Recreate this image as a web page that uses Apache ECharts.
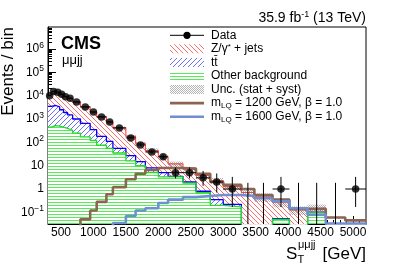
<!DOCTYPE html>
<html><head><meta charset="utf-8">
<script src="https://cdn.jsdelivr.net/npm/echarts@6/dist/echarts.min.js"></script>
<style>html,body{margin:0;padding:0;background:#fff}#c{width:407px;height:267px}</style>
</head><body><div id="c"></div>
<script>
// ---- data ----
const binEdges = [300,350,420,480,540,600,680,800,950,1050,1200,1300,1500,1650,1800,2000,2150,2380,2580,2800,3000,3280,3480,3760,4020,4300,4580,4880,5200];
const dataCounts = [10000,15000,14000,11500,9100,7700,5400,3300,2000,1230,750,415,155,77,39,24,5,5,3,2,1,0,0,1,0,0,0,1];
const dataErrLow = [9900,14880,13880,11390,9000,7610,5330,3240,1955,1195,723,395,143,69,33,19.2,2.84,2.84,1.37,0.71,0.17,0,0,0.17,0,0,0,0.17];
const dataErrHigh = [10100,15120,14120,11610,9200,7790,5470,3360,2045,1265,778,436,168,86,46,29.9,8.38,8.38,5.92,4.64,3.30,1.84,1.84,3.30,1.84,1.84,1.84,3.30];
const bkgOther = [450,520,500,450,400,330,250,170,120,75,55,35,16,10,5,3.3,3.3,1.8,0.7,0.2,0.17,0.005,0.005,0.05,0.005,0.1,0.004,0.004];
const bkgTTbar = [3050,3280,2800,2050,1500,1170,750,480,230,105,55,20,11,5,3,1.7,0.2,0.2,0.1,0.15,0.05,0.005,0.005,0.003,0.003,0.003,0.001,0.001];
const bkgZjets = [7000,11000,10200,9000,7100,6000,4300,2650,1650,1070,650,365,153,75,37,19,8.5,5,3,1.95,1.05,0.7,0.45,0.22,0.12,0.05,0.01,0.01];
const bkgUncRel = [0.1,0.1,0.1,0.1,0.1,0.1,0.1,0.1,0.1,0.1,0.15,0.15,0.15,0.15,0.25,0.25,0.25,0.25,0.3,0.3,0.3,0.3,0.4,0.4,0.4,0.4,0.5,0.5];
const lq1200 = [0.001,0.001,0.001,0.001,0.001,0.001,0.001,0.05,0.12,0.28,0.6,1.2,2.6,4.5,6.5,8,8,7.5,4.5,2,1.5,1,0.55,0.35,0.14,0.14,0.06,0.045];
const lq1600 = [0.001,0.001,0.001,0.001,0.001,0.001,0.001,0.001,0.001,0.001,0.001,0.035,0.07,0.12,0.15,0.25,0.35,0.45,0.5,0.55,0.55,0.5,0.4,0.3,0.15,0.08,0.033,0.033];
const xMajorTicks = [500,1000,1500,2000,2500,3000,3500,4000,4500,5000];
const yMajorTicks = [0.1,1,10,100,1000,10000,100000,1000000];

// ---- helpers ----
const FONT = '"Liberation Sans", Arial, sans-serif';
function makePattern(kind, color, bg) {
  const c = document.createElement('canvas');
  const ctx = c.getContext('2d');
  const fillBg = (w, h) => { if (bg) { ctx.fillStyle = bg; ctx.fillRect(0, 0, w, h); } };
  if (kind === 'diagDown' || kind === 'diagUp') {
    const s = 5; c.width = s; c.height = s; fillBg(s, s);
    ctx.strokeStyle = color; ctx.lineWidth = 1;
    for (let k = -1; k <= 1; k++) {
      ctx.beginPath();
      if (kind === 'diagDown') { ctx.moveTo(k*s, 0); ctx.lineTo(k*s + s, s); }
      else { ctx.moveTo(k*s + s, 0); ctx.lineTo(k*s, s); }
      ctx.stroke();
    }
  } else if (kind === 'horiz') {
    c.width = 4; c.height = 3; fillBg(4, 3);
    ctx.fillStyle = color; ctx.fillRect(0, 1, 4, 1);
  } else {
    c.width = 2; c.height = 2; fillBg(2, 2);
    ctx.fillStyle = color; ctx.fillRect(0, 0, 1, 1); ctx.fillRect(1, 1, 1, 1);
  }
  return {image: c, repeat: 'repeat'};
}
const patZ = makePattern('diagDown', 'rgba(255,60,60,0.75)', '#fff');
const patTT = makePattern('diagUp', 'rgba(60,60,255,0.75)', '#fff');
const patOther = makePattern('horiz', 'rgba(60,230,60,0.85)', '#fff');
const patUnc = makePattern('dots', 'rgba(120,120,120,0.55)', null);

const nBins = binEdges.length - 1;
const centers = binEdges.slice(0, -1).map((e, i) => (e + binEdges[i+1]) / 2);
function stepData(vals) {
  const d = vals.map((v, i) => [binEdges[i], v]);
  d.push([binEdges[nBins], vals[nBins-1]]);
  return d;
}
// stacked totals (stack order: other, ttbar, Z+jets)
const stackOther = bkgOther.slice();
const stackTT = bkgOther.map((v, i) => v + bkgTTbar[i]);
const stackZ = stackTT.map((v, i) => v + bkgZjets[i]);
const bkgTotal = stackZ;
const xMinorTicks = [];
for (let v = 400; v <= 5100; v += 100) if (v % 500) xMinorTicks.push(v);
const yMinorTicks = [];
for (let e = -2; e <= 6; e++) for (let m = 2; m <= 9; m++) yMinorTicks.push(m * Math.pow(10, e));

function yLabel(v) {
  const e = Math.round(Math.log10(v));
  if (e === 0) return '1';
  if (e === 1) return '10';
  return '10{sup|' + (e < 0 ? '\u2212' + (-e) : e) + '}';
}

const chart = echarts.init(document.getElementById('c'), null, {renderer: 'canvas'});
const legendY = i => 35.3 + i * 13.57;
const lgText = (i, text, rich) => ({type: 'text', x: 211, y: legendY(i), style: {text, fontSize: 12, fontFamily: FONT, fill: '#000', verticalAlign: 'middle', rich: rich || {}}});
const subRich = {sub: {fontSize: 8, fontFamily: FONT, verticalAlign: 'bottom', padding: [6, 0, 0, 0]}};

const option = {
  animation: false,
  backgroundColor: '#fff',
  grid: {left: 48, right: 41, top: 27, bottom: 43, show: true, borderColor: '#000', borderWidth: 1, backgroundColor: 'transparent'},
  xAxis: [
    {type: 'value', min: 300, max: 5200, position: 'bottom',
     axisLine: {show: true, lineStyle: {color: '#000', width: 1}},
     axisTick: {show: true, inside: true, length: 8, customValues: xMajorTicks, lineStyle: {color: '#000'}},
     axisLabel: {customValues: xMajorTicks, fontSize: 12, fontFamily: FONT, color: '#000', margin: 3, formatter: v => String(v)},
     splitLine: {show: false}},
    {type: 'value', min: 300, max: 5200, position: 'bottom',
     axisLine: {show: false},
     axisTick: {show: true, inside: true, length: 4, customValues: xMinorTicks, lineStyle: {color: '#000'}},
     axisLabel: {show: false}, splitLine: {show: false}}
  ],
  yAxis: [
    {type: 'log', logBase: 10, min: 0.0316, max: 8.8e6, position: 'left',
     axisLine: {show: true, lineStyle: {color: '#000', width: 1}},
     axisTick: {show: true, inside: true, length: 8, customValues: yMajorTicks, lineStyle: {color: '#000'}},
     axisLabel: {customValues: yMajorTicks, fontSize: 12, fontFamily: FONT, color: '#000', margin: 4,
       formatter: yLabel, rich: {sup: {fontSize: 8.5, fontFamily: FONT, verticalAlign: 'top', padding: [0, 0, 7, 0]}}},
     splitLine: {show: false}},
    {type: 'log', logBase: 10, min: 0.0316, max: 8.8e6, position: 'left',
     axisLine: {show: false},
     axisTick: {show: true, inside: true, length: 4, customValues: yMinorTicks, lineStyle: {color: '#000'}},
     axisLabel: {show: false}, splitLine: {show: false}}
  ],
  series: [
    {name: 'Z+jets', type: 'line', step: 'end', data: stepData(stackZ), symbol: 'none',
     lineStyle: {color: '#ff4444', width: 1.1}, areaStyle: {color: patZ, opacity: 1}, z: 2},
    {name: 'ttbar', type: 'line', step: 'end', data: stepData(stackTT), symbol: 'none',
     lineStyle: {color: '#0000ff', width: 1.3}, areaStyle: {color: patTT, opacity: 1}, z: 2},
    {name: 'Other background', type: 'line', step: 'end', data: stepData(stackOther), symbol: 'none',
     lineStyle: {color: '#22dd22', width: 1.3}, areaStyle: {color: patOther, opacity: 1}, z: 2},
    {name: 'Unc', type: 'custom', z: 3,
     data: bkgTotal.map((t, i) => [binEdges[i], binEdges[i+1], t * (1 - bkgUncRel[i]), t * (1 + bkgUncRel[i])]),
     encode: {x: [0, 1], y: [2, 3]},
     renderItem: function (params, api) {
       const a = api.coord([api.value(0), api.value(3)]);
       const b = api.coord([api.value(1), api.value(2)]);
       const cs = params.coordSys;
       const y0 = Math.max(a[1], cs.y), y1 = Math.min(b[1], cs.y + cs.height);
       if (!(y1 > y0)) return null;
       return {type: 'rect', shape: {x: a[0], y: y0, width: b[0] - a[0], height: y1 - y0}, style: {fill: patUnc}};
     }},
    {name: 'LQ1200', type: 'line', step: 'end', data: stepData(lq1200), symbol: 'none',
     lineStyle: {color: '#8c6452', width: 2.6}, z: 4},
    {name: 'LQ1600', type: 'line', step: 'end', data: stepData(lq1600), symbol: 'none',
     lineStyle: {color: '#6f8fd2', width: 2.6}, z: 4},
    {name: 'DataErr', type: 'custom', z: 5,
     data: centers.map((c, i) => [c, dataErrLow[i], dataErrHigh[i], dataCounts[i], binEdges[i], binEdges[i+1]]),
     encode: {x: 0, y: [1, 2]},
     renderItem: function (params, api) {
       const cs = params.coordSys;
       const bottom = cs.y + cs.height;
       const c = api.value(0), lo = api.value(1), hi = api.value(2), n = api.value(3);
       const xc = api.coord([c, 1])[0];
       let yLo = lo > 0 ? api.coord([c, lo])[1] : bottom;
       yLo = Math.min(yLo, bottom);
       const yHi = Math.max(api.coord([c, hi])[1], cs.y);
       const children = [{type: 'line', shape: {x1: xc, y1: yLo, x2: xc, y2: yHi}, style: {stroke: '#000', lineWidth: 1}}];
       if (n > 0) {
         const yn = api.coord([c, n])[1];
         const xl = api.coord([api.value(4), n])[0], xr = api.coord([api.value(5), n])[0];
         children.push({type: 'line', shape: {x1: xl, y1: yn, x2: xr, y2: yn}, style: {stroke: '#000', lineWidth: 1}});
       }
       return {type: 'group', children};
     }},
    {name: 'Data', type: 'scatter', z: 6, symbol: 'circle', symbolSize: 7.5, itemStyle: {color: '#000'},
     data: centers.map((c, i) => [c, dataCounts[i]]).filter(d => d[1] > 0)}
  ],
  graphic: [
    {type: 'text', x: 366, y: 18.5, style: {text: '35.9 fb{sup|-1} (13 TeV)', fontSize: 14, fontFamily: FONT, fill: '#000', align: 'right', verticalAlign: 'middle',
      rich: {sup: {fontSize: 9, fontFamily: FONT, verticalAlign: 'top', padding: [0, 0, 8, 0]}}}},
    {type: 'text', x: 61, y: 44, style: {text: 'CMS', fontSize: 18, fontWeight: 'bold', fontFamily: FONT, fill: '#000', verticalAlign: 'middle'}},
    {type: 'text', x: 62, y: 60, style: {text: '\u03bc\u03bcjj', fontSize: 13, fontFamily: FONT, fill: '#000', verticalAlign: 'middle'}},
    {type: 'text', x: 17, y: 27, rotation: Math.PI / 2, style: {text: 'Events / bin', fontSize: 17, fontFamily: FONT, fill: '#000', align: 'right', verticalAlign: 'bottom'}},
    {type: 'text', x: 366, y: 254, style: {text: '[GeV]', fontSize: 17, fontFamily: FONT, fill: '#000', align: 'right', verticalAlign: 'middle'}},
    {type: 'text', x: 286, y: 254, style: {text: 'S', fontSize: 17, fontFamily: FONT, fill: '#000', align: 'left', verticalAlign: 'middle'}},
    {type: 'text', x: 297.5, y: 260, style: {text: 'T', fontSize: 11, fontFamily: FONT, fill: '#000', align: 'left', verticalAlign: 'middle'}},
    {type: 'text', x: 298, y: 245, style: {text: '\u03bc\u03bcjj', fontSize: 11, fontFamily: FONT, fill: '#000', align: 'left', verticalAlign: 'middle'}},
    // legend
    {type: 'line', shape: {x1: 170, y1: legendY(0), x2: 204, y2: legendY(0)}, style: {stroke: '#000', lineWidth: 1}},
    {type: 'circle', shape: {cx: 187, cy: legendY(0), r: 3.6}, style: {fill: '#000'}},
    lgText(0, 'Data'),
    {type: 'rect', shape: {x: 170, y: legendY(1) - 4.5, width: 34, height: 9}, style: {fill: patZ}},
    lgText(1, 'Z/\u03b3{sup|*} + jets', {sup: {fontSize: 8, fontFamily: FONT, verticalAlign: 'top', padding: [0, 0, 5, 0]}}),
    {type: 'rect', shape: {x: 170, y: legendY(2) - 4.5, width: 34, height: 9}, style: {fill: patTT}},
    lgText(2, 'tt\u0304'),
    {type: 'rect', shape: {x: 170, y: legendY(3) - 4.5, width: 34, height: 9}, style: {fill: patOther}},
    lgText(3, 'Other background'),
    {type: 'rect', shape: {x: 170, y: legendY(4) - 4.5, width: 34, height: 9}, style: {fill: patUnc}},
    lgText(4, 'Unc. (stat + syst)'),
    {type: 'line', shape: {x1: 170, y1: legendY(5), x2: 204, y2: legendY(5)}, style: {stroke: '#8c6452', lineWidth: 2.6}},
    lgText(5, 'm{sub|LQ} = 1200 GeV, \u03b2 = 1.0', subRich),
    {type: 'line', shape: {x1: 170, y1: legendY(6), x2: 204, y2: legendY(6)}, style: {stroke: '#6f8fd2', lineWidth: 2.6}},
    lgText(6, 'm{sub|LQ} = 1600 GeV, \u03b2 = 1.0', subRich)
  ]
};
chart.setOption(option);
</script></body></html>
